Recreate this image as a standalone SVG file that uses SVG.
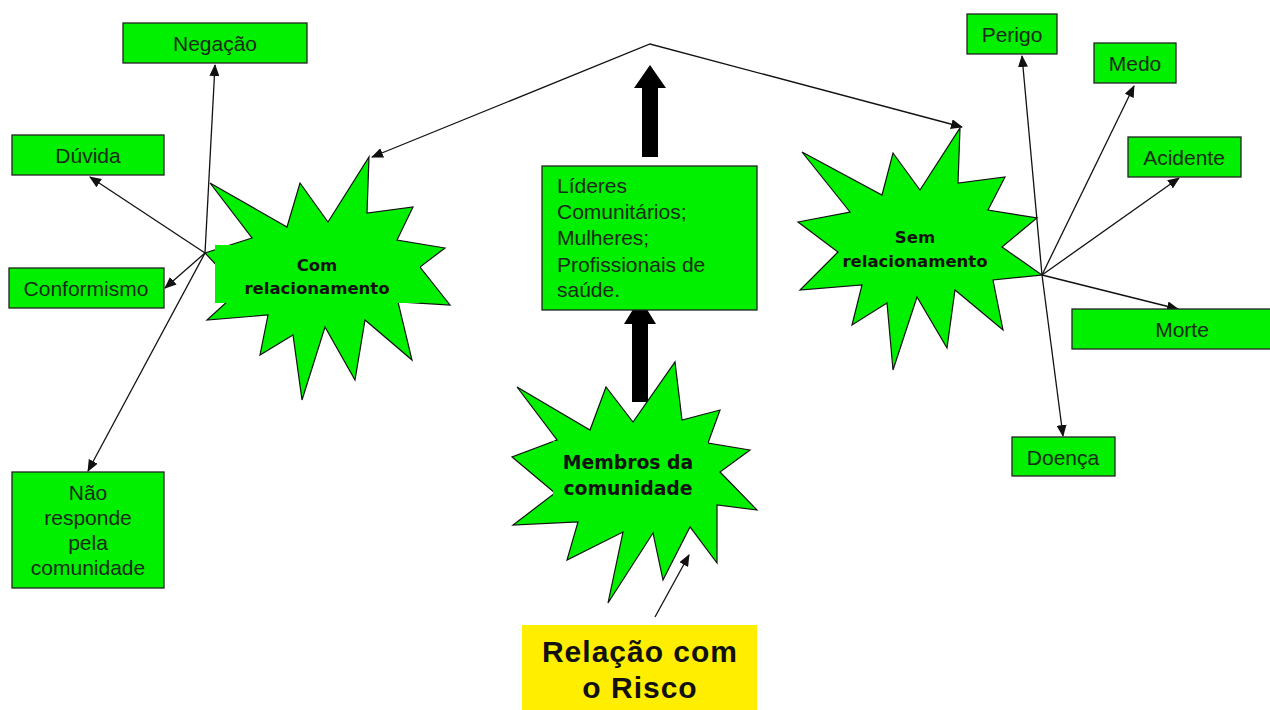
<svg xmlns="http://www.w3.org/2000/svg" width="1270" height="710" viewBox="0 0 1270 710">
<style>
.box{fill:#00f000;stroke:#222;stroke-width:1.3}
.star{fill:#00f000;stroke:#111;stroke-width:1.2;stroke-linejoin:miter}
.tb{fill:#00f000;stroke:none}
.lbl{font-family:"Liberation Sans",Arial,sans-serif;font-size:21px;fill:#1a2a1a}
.bold{font-family:"DejaVu Sans",Verdana,sans-serif;font-weight:bold;font-size:16.5px;fill:#111}
.bold.big20{font-size:18.8px}
.conn{stroke:#111;stroke-width:1.3;fill:none;marker-end:url(#ah)}
.big{fill:#000}
</style>
<defs>
<marker id="ah" viewBox="0 0 12 10" refX="11" refY="5" markerWidth="12" markerHeight="10" markerUnits="userSpaceOnUse" orient="auto-start-reverse">
<path d="M0,0 L12,5 L0,10 Z" fill="#111"/>
</marker>
</defs>
<rect width="1270" height="710" fill="#fff"/>

<g id="connectors">
<path d="M372,157 L650,44 L962,127" class="conn" marker-start="url(#ah)"/>
<line x1="205" y1="253" x2="215" y2="65" class="conn"/>
<line x1="205" y1="253" x2="90" y2="177" class="conn"/>
<line x1="205" y1="253" x2="165" y2="288" class="conn"/>
<line x1="205" y1="253" x2="88" y2="471" class="conn"/>
<line x1="1042" y1="275" x2="1022" y2="56" class="conn"/>
<line x1="1042" y1="275" x2="1134" y2="86" class="conn"/>
<line x1="1042" y1="275" x2="1179" y2="178" class="conn"/>
<line x1="1042" y1="275" x2="1178" y2="309" class="conn"/>
<line x1="1042" y1="275" x2="1063" y2="436" class="conn"/>
<line x1="655" y1="617" x2="689" y2="555" class="conn"/>
<path class="big" d="M642,157 L642,88 L634,88 L650,65 L666,88 L658,88 L658,157 Z"/>
<path class="big" d="M632,402 L632,324 L624,324 L640,298 L656,324 L648,324 L648,402 Z"/>
</g>

<g id="negacao"><rect class="box" x="123" y="23" width="184" height="40"/><text class="lbl" x="215" y="51" text-anchor="middle">Negação</text></g>
<g id="duvida"><rect class="box" x="12" y="135" width="152" height="40"/><text class="lbl" x="88" y="163" text-anchor="middle">Dúvida</text></g>
<g id="conformismo"><rect class="box" x="9" y="268" width="155" height="40"/><text class="lbl" x="86" y="296" text-anchor="middle">Conformismo</text></g>
<g id="nao-responde"><rect class="box" x="12" y="472" width="152" height="116"/>
<text class="lbl" x="88" y="500" text-anchor="middle">Não</text>
<text class="lbl" x="88" y="525" text-anchor="middle">responde</text>
<text class="lbl" x="88" y="550" text-anchor="middle">pela</text>
<text class="lbl" x="88" y="575" text-anchor="middle">comunidade</text></g>

<g id="com-relacionamento">
<polygon class="star" points="210,183 287,227 300,183 328,222 369,157 367,213 413,207 397,240 445,248 420,267 450,305 398,302 412,360 365,320 355,380 325,327 302,400 293,335 260,355 268,315 207,320 240,290 205,253 252,238"/>
<rect class="tb" x="215" y="245" width="205" height="58"/>
<text class="bold" x="317" y="271" text-anchor="middle">Com</text>
<text class="bold" x="317" y="294" text-anchor="middle">relacionamento</text>
</g>

<g id="lideres"><rect class="box" x="542" y="166" width="215" height="144"/>
<text class="lbl" x="557" y="193">Líderes</text>
<text class="lbl" x="557" y="219">Comunitários;</text>
<text class="lbl" x="557" y="245">Mulheres;</text>
<text class="lbl" x="557" y="272">Profissionais de</text>
<text class="lbl" x="557" y="297">saúde.</text></g>

<g id="membros">
<polygon class="star" points="517,387 590,430 606,387 633,422 675,362 682,420 720,410 708,443 750,450 720,472 757,510 717,505 717,563 690,527 663,580 653,533 608,603 623,532 567,560 578,522 513,525 555,493 512,457 557,440"/>
<rect class="tb" x="553" y="441" width="155" height="60"/>
<text class="bold big20" x="628" y="469" text-anchor="middle">Membros da</text>
<text class="bold big20" x="628" y="495" text-anchor="middle">comunidade</text>
</g>

<g id="sem-relacionamento">
<polygon class="star" points="802,152 882,195 893,153 920,190 960,128 958,183 1005,177 988,210 1037,218 1002,247 1042,275 993,280 1003,330 955,290 947,348 917,297 893,370 887,303 852,325 862,285 800,290 838,252 798,222 850,212"/>
<text class="bold" x="915" y="243" text-anchor="middle">Sem</text>
<text class="bold" x="915" y="267" text-anchor="middle">relacionamento</text>
</g>

<g id="perigo"><rect class="box" x="967" y="14" width="90" height="40"/><text class="lbl" x="1012" y="42" text-anchor="middle">Perigo</text></g>
<g id="medo"><rect class="box" x="1094" y="43" width="82" height="40"/><text class="lbl" x="1135" y="71" text-anchor="middle">Medo</text></g>
<g id="acidente"><rect class="box" x="1128" y="137" width="113" height="40"/><text class="lbl" x="1184" y="165" text-anchor="middle">Acidente</text></g>
<g id="morte"><rect class="box" x="1072" y="309" width="200" height="40"/><text class="lbl" x="1182" y="337" text-anchor="middle">Morte</text></g>
<g id="doenca"><rect class="box" x="1012" y="437" width="103" height="39"/><text class="lbl" x="1063" y="465" text-anchor="middle">Doença</text></g>

<g id="relacao"><rect x="522" y="625" width="235" height="85" fill="#ffee00"/>
<text x="640" y="662" text-anchor="middle" style="font-family:'Liberation Sans',Arial,sans-serif;font-weight:bold;font-size:30px;letter-spacing:1px;fill:#111">Relação com</text>
<text x="640" y="698" text-anchor="middle" style="font-family:'Liberation Sans',Arial,sans-serif;font-weight:bold;font-size:30px;letter-spacing:1px;fill:#111">o Risco</text></g>
</svg>
